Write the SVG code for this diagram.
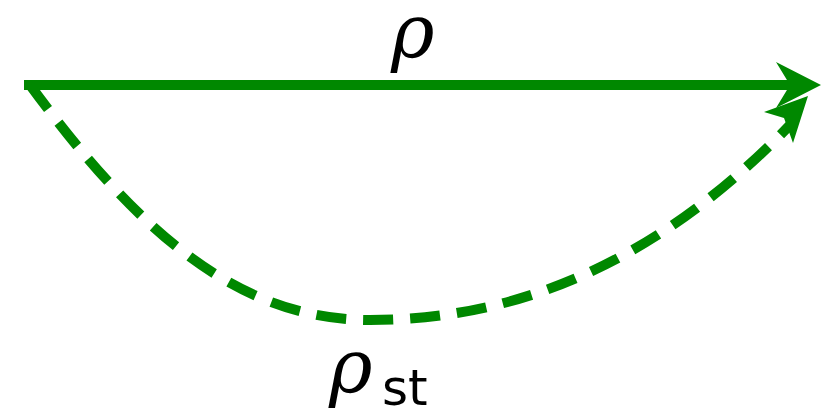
<svg xmlns="http://www.w3.org/2000/svg" width="836" height="412" viewBox="0 0 836 412">
<style>
.line{fill:none;stroke:#008800;stroke-width:10}
.dash{stroke-dasharray:30 17}
.head{fill:#008800}
.math{font-family:"DejaVu Serif","Liberation Serif",serif;font-style:italic;fill:#000}
.sub{font-family:"DejaVu Sans","Liberation Sans",sans-serif;fill:#000}
</style>
<rect width="836" height="412" fill="#fff"/>
<g id="connectors">
<path class="line" d="M24,85 L800,85"/>
<path class="head" d="M821,85 L776,62 L790,85 L776,108 Z"/>
<path class="line dash" d="M30,85 C140,235 240,320 370,320 C520,320 660,260 790,125"/>
<path class="head" d="M808,96 L764,112 L784,118 L793,143 Z"/>
</g>
<g id="label-rho">
<text class="math" x="391" y="57" font-size="74">ρ</text>
</g>
<g id="label-rho-st">
<text class="math" x="329" y="392" font-size="74">ρ</text>
<text class="sub" x="382" y="405" font-size="50">st</text>
</g>
</svg>
